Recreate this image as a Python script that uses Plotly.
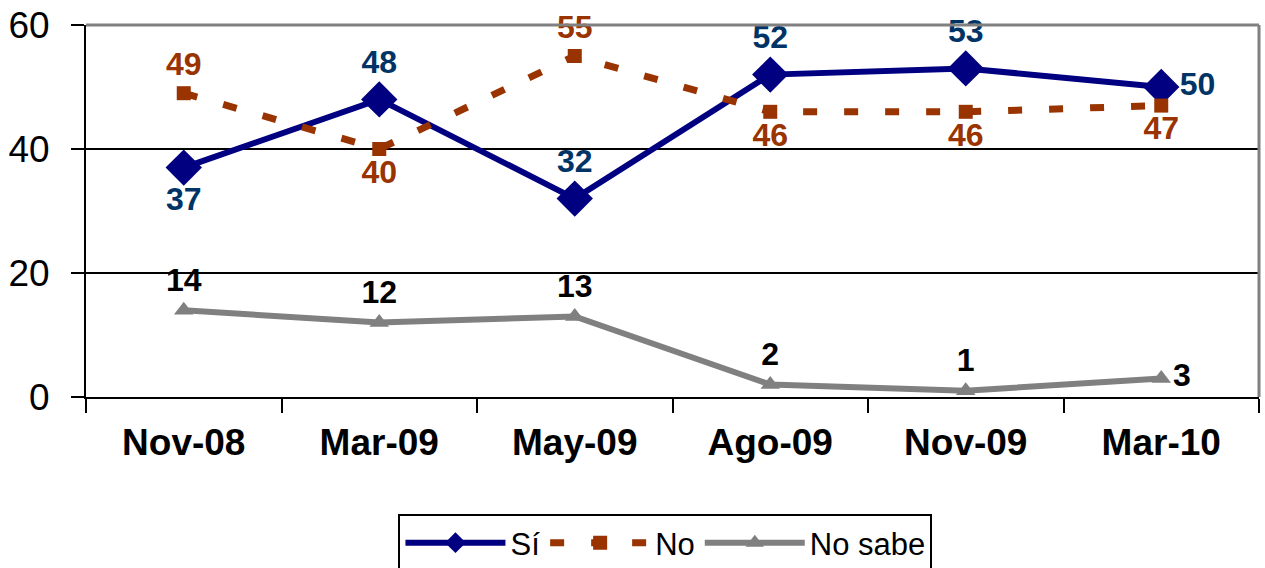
import plotly.graph_objects as go

categories = ["Nov-08", "Mar-09", "May-09", "Ago-09", "Nov-09", "Mar-10"]
si_values = [37, 48, 32, 52, 53, 50]
no_values = [49, 40, 55, 46, 46, 47]
nosabe_values = [14, 12, 13, 2, 1, 3]

si_pos = ["bottom center", "top center", "top center", "top center", "top center", "middle right"]
no_pos = ["top center", "bottom center", "top center", "bottom center", "bottom center", "bottom center"]
ns_pos = ["top center", "top center", "top center", "top center", "top center", "middle right"]

font_family = "Liberation Sans, Arial, sans-serif"

fig = go.Figure()
fig.add_trace(go.Scatter(
    x=categories, y=si_values, name="Sí", mode="lines+markers+text",
    line=dict(color="#000080", width=6),
    marker=dict(symbol="diamond", size=28, color="#000080"),
    text=[str(v) for v in si_values], textposition=si_pos,
    textfont=dict(family=font_family, size=32, color="#003366", weight="bold"),
    cliponaxis=False,
))
fig.add_trace(go.Scatter(
    x=categories, y=no_values, name="No", mode="lines+markers+text",
    line=dict(color="#993300", width=7, dash="14px,27px"),
    marker=dict(symbol="square", size=14, color="#993300"),
    text=[str(v) for v in no_values], textposition=no_pos,
    textfont=dict(family=font_family, size=32, color="#993300", weight="bold"),
    cliponaxis=False,
))
fig.add_trace(go.Scatter(
    x=categories, y=nosabe_values, name="No sabe", mode="lines+markers+text",
    line=dict(color="#808080", width=6),
    marker=dict(symbol="triangle-up", size=17, color="#808080"),
    text=[str(v) for v in nosabe_values], textposition=ns_pos,
    textfont=dict(family=font_family, size=32, color="#000000", weight="bold"),
    cliponaxis=False,
))

fig.update_layout(
    width=1265, height=568,
    margin=dict(l=86, r=6, t=25, b=171, autoexpand=False),
    paper_bgcolor="white", plot_bgcolor="white",
    font=dict(family=font_family, color="black"),
    showlegend=True,
    legend=dict(
        orientation="h", x=0.494, xanchor="center", y=-0.3145, yanchor="top",
        bordercolor="black", borderwidth=2,
        font=dict(size=31, family=font_family),
        itemwidth=100,
    ),
    xaxis=dict(
        type="category", tickson="boundaries", ticks="outside", ticklen=14,
        tickwidth=2, tickcolor="black",
        showline=True, linecolor="black", linewidth=2,
        showgrid=False, range=[-0.5, 5.5],
        tickfont=dict(size=37, family=font_family, weight="bold"),
        ticklabelstandoff=12,
        ticklabeloverflow="allow",
        automargin=False,
    ),
    yaxis=dict(
        range=[0, 60], tickvals=[0, 20, 40, 60], ticks="outside", ticklen=13,
        tickwidth=2, tickcolor="black",
        showline=True, linecolor="black", linewidth=2,
        showgrid=True, gridcolor="black", gridwidth=2,
        zeroline=False,
        tickfont=dict(size=37, family=font_family),
        ticklabelstandoff=14,
        ticklabeloverflow="allow",
        automargin=False,
    ),
    shapes=[
        dict(type="line", xref="paper", yref="paper", x0=0, x1=1, y0=1, y1=1,
             line=dict(color="#808080", width=3)),
        dict(type="line", xref="paper", yref="paper", x0=1, x1=1, y0=0, y1=1,
             line=dict(color="#808080", width=3)),
    ],
)

fig.write_html(
    "out.html",
    config={"displayModeBar": False},
    post_script="document.body.style.margin='0';document.body.style.overflow='hidden';",
)
